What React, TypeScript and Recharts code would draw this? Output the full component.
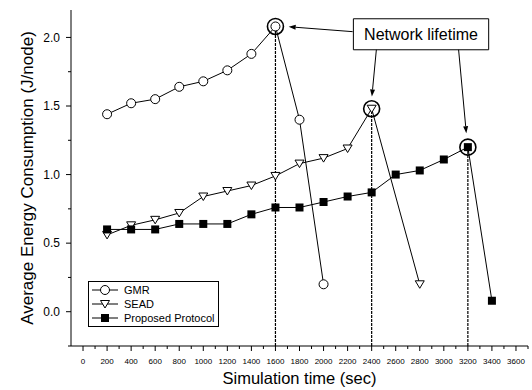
import React from 'react';
import { LineChart, Line, XAxis, YAxis, ReferenceLine, ReferenceDot, ReferenceArea, Legend } from 'recharts';

const font = '"Liberation Sans", Arial, sans-serif';

// simulation time (sec) and average energy (J/node) per protocol
const gmrTime = [200, 400, 600, 800, 1000, 1200, 1400, 1600, 1800, 2000];
const gmrEnergy = [1.44, 1.52, 1.55, 1.64, 1.68, 1.76, 1.88, 2.08, 1.40, 0.20];

const seadTime = [200, 400, 600, 800, 1000, 1200, 1400, 1600, 1800, 2000, 2200, 2400, 2800];
const seadEnergy = [0.56, 0.63, 0.67, 0.72, 0.84, 0.88, 0.92, 0.99, 1.08, 1.12, 1.19, 1.48, 0.20];

const proposedTime = [200, 400, 600, 800, 1000, 1200, 1400, 1600, 1800, 2000, 2200, 2400, 2600, 2800, 3000, 3200, 3400];
const proposedEnergy = [0.60, 0.60, 0.60, 0.64, 0.64, 0.64, 0.71, 0.76, 0.76, 0.80, 0.84, 0.87, 1.00, 1.03, 1.11, 1.20, 0.08];

// network lifetime of each protocol (sec)
const lifetimes = [1600, 2400, 3200];

const xMajorTicks = [0, 200, 400, 600, 800, 1000, 1200, 1400, 1600, 1800, 2000, 2200, 2400, 2600, 2800, 3000, 3200, 3400, 3600];
const xMinorTicks = [100, 300, 500, 700, 900, 1100, 1300, 1500, 1700, 1900, 2100, 2300, 2500, 2700, 2900, 3100, 3300, 3500, 3700];
const yMajorTicks = [0, 0.5, 1.0, 1.5, 2.0];
const yMinorTicks = [-0.25, 0.25, 0.75, 1.25, 1.75];

// annotation box + arrow start points, in data units
const noteBox = { x1: 2248, x2: 3373, y1: 1.91, y2: 2.136 };
const arrowStarts = [
  { x: 2242, y: 2.042 },
  { x: 2439, y: 1.91 },
  { x: 3123, y: 1.91 },
];
const arrowEnds = [
  { x: 1710, y: 2.078 },
  { x: 2402, y: 1.569 },
  { x: 3187, y: 1.302 },
];

const toPoints = (t: number[], e: number[]) => t.map((v, i) => ({ t: v, e: e[i] }));

const series = [
  { name: 'GMR', kind: 'circle', data: toPoints(gmrTime, gmrEnergy) },
  { name: 'SEAD', kind: 'triangle', data: toPoints(seadTime, seadEnergy) },
  { name: 'Proposed Protocol', kind: 'square', data: toPoints(proposedTime, proposedEnergy) },
];

const Marker = ({ kind, cx, cy }: { kind: string; cx: number; cy: number }) => {
  if (kind === 'circle') return <circle cx={cx} cy={cy} r={4.5} fill="#fff" stroke="#000" strokeWidth={1} />;
  if (kind === 'triangle')
    return (
      <path
        d={`M${cx - 4.5},${cy - 3.5} L${cx + 4.5},${cy - 3.5} L${cx},${cy + 4} Z`}
        fill="#fff"
        stroke="#000"
        strokeWidth={1}
      />
    );
  return <rect x={cx - 4} y={cy - 4} width={8} height={8} fill="#000" />;
};

const XTick = (props: any) => {
  const { x, y, payload } = props;
  const major = xMajorTicks.includes(payload.value);
  return (
    <g>
      <line x1={x} y1={y} x2={x} y2={y + (major ? 5 : 3)} stroke="#000" />
      {major && (
        <text x={x} y={y + 18} textAnchor="middle" fontSize={8} fontFamily={font} fill="#000">
          {payload.value}
        </text>
      )}
    </g>
  );
};

const YTick = (props: any) => {
  const { x, y, payload } = props;
  const major = yMajorTicks.includes(payload.value);
  return (
    <g>
      <line x1={x - (major ? 5 : 3)} y1={y} x2={x} y2={y} stroke="#000" />
      {major && (
        <text x={x - 11} y={y + 4.2} textAnchor="end" fontSize={12} fontFamily={font} fill="#000">
          {payload.value.toFixed(1)}
        </text>
      )}
    </g>
  );
};

const Arrow = (props: any) => {
  const { x1, y1, x2, y2 } = props;
  const a = Math.atan2(y2 - y1, x2 - x1);
  const len = 7;
  const w = 2.5;
  const bx = x2 - len * Math.cos(a);
  const by = y2 - len * Math.sin(a);
  const px = -Math.sin(a) * w;
  const py = Math.cos(a) * w;
  return (
    <g>
      <line x1={x1} y1={y1} x2={bx} y2={by} stroke="#000" strokeWidth={1} />
      <path d={`M${x2},${y2} L${bx + px},${by + py} L${bx - px},${by - py} Z`} fill="#000" />
    </g>
  );
};

const LegendBox = () => (
  <svg width={131} height={46} style={{ display: 'block' }}>
    <rect x={0.5} y={0.5} width={130} height={45} fill="#fff" stroke="#000" />
    {series.map((s, i) => {
      const cy = 9 + i * 14;
      return (
        <g key={s.name}>
          <line x1={4} y1={cy} x2={30} y2={cy} stroke="#000" />
          <Marker kind={s.kind} cx={17} cy={cy} />
          <text x={36} y={cy + 4} fontSize={11} fontFamily={font} fill="#000">
            {s.name}
          </text>
        </g>
      );
    })}
  </svg>
);

const lifetimeValue = (t: number, i: number) => {
  const s = series[i].data.find((p) => p.t === t);
  return s ? s.e : 0;
};

export default function App() {
  return (
    <div style={{ position: 'absolute', left: 0, top: 0 }}>
      <LineChart width={532} height={390} margin={{ top: 10, right: 4, bottom: 0, left: 0 }} style={{ fontFamily: font }}>
        <XAxis
          dataKey="t"
          type="number"
          domain={[-100, 3700]}
          ticks={[...xMajorTicks, ...xMinorTicks].sort((a, b) => a - b)}
          interval={0}
          tick={<XTick />}
          tickLine={false}
          tickSize={0}
          tickMargin={0}
          height={44}
          axisLine={{ stroke: '#000' }}
          label={{
            value: 'Simulation time (sec)',
            position: 'insideBottom',
            offset: 6,
            fontSize: 16.5,
            fill: '#000',
            fontFamily: font,
          }}
        />
        <YAxis
          type="number"
          domain={[-0.25, 2.2]}
          ticks={[...yMajorTicks, ...yMinorTicks].sort((a, b) => a - b)}
          interval={0}
          tick={<YTick />}
          tickLine={false}
          tickSize={0}
          tickMargin={0}
          width={71}
          axisLine={{ stroke: '#000' }}
          label={{
            value: 'Average Energy Consumption (J/node)',
            angle: -90,
            position: 'insideLeft',
            offset: 27,
            fontSize: 17,
            fill: '#000',
            fontFamily: font,
            style: { textAnchor: 'middle' },
          }}
        />
        {lifetimes.map((t, i) => (
          <ReferenceLine
            key={'v' + t}
            segment={[
              { x: t, y: -0.25 },
              { x: t, y: lifetimeValue(t, i) },
            ]}
            stroke="#000"
            strokeWidth={1.2}
            strokeDasharray="3 1"
            ifOverflow="visible"
          />
        ))}
        {series.map((s) => (
          <Line
            key={s.name}
            name={s.name}
            data={s.data}
            dataKey="e"
            stroke="#000"
            strokeWidth={1}
            isAnimationActive={false}
            dot={(p: any) => <Marker key={s.name + p.index} kind={s.kind} cx={p.cx} cy={p.cy} />}
            activeDot={false}
          />
        ))}
        {lifetimes.map((t, i) => (
          <ReferenceDot
            key={'d' + t}
            x={t}
            y={lifetimeValue(t, i)}
            r={8}
            fill="none"
            stroke="#000"
            strokeWidth={1.6}
            ifOverflow="visible"
          />
        ))}
        <ReferenceArea
          x1={noteBox.x1}
          x2={noteBox.x2}
          y1={noteBox.y1}
          y2={noteBox.y2}
          fill="#fff"
          fillOpacity={1}
          stroke="#000"
          strokeWidth={1}
          label={{ value: 'Network lifetime', position: 'center', fontSize: 16, fill: '#000', fontFamily: font }}
        />
        {arrowStarts.map((p, i) => (
          <ReferenceLine
            key={'a' + i}
            segment={[p, arrowEnds[i]]}
            shape={(props: any) => <Arrow {...props} />}
            ifOverflow="visible"
          />
        ))}
        <Legend
          layout="vertical"
          align="center"
          verticalAlign="middle"
          content={() => <LegendBox />}
          wrapperStyle={{ position: 'absolute', left: 88, top: 281, width: 131, height: 46 }}
        />
      </LineChart>
    </div>
  );
}
